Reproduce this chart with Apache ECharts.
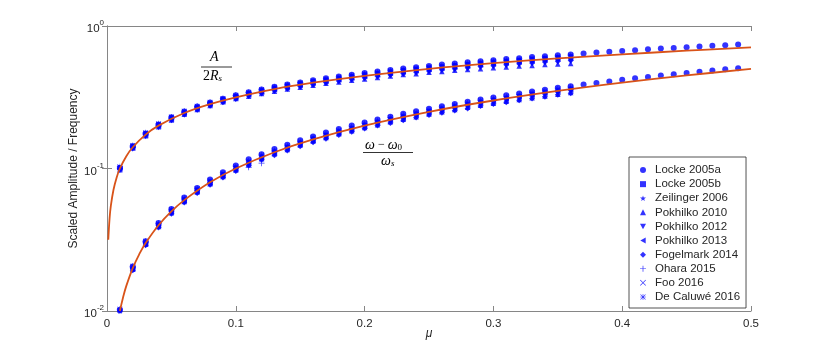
<!DOCTYPE html>
<html>
<head>
<meta charset="utf-8">
<script src="https://cdn.jsdelivr.net/npm/echarts@6/dist/echarts.min.js"></script>
<style>
  html, body { margin: 0; padding: 0; background: #fff; }
  #chart { width: 830px; height: 351px; }
</style>
</head>
<body>
<div id="chart"></div>
<script>
// mu values of the measured points
const muShort = [0.01, 0.02, 0.03, 0.04, 0.05, 0.06, 0.07, 0.08, 0.09, 0.10, 0.11, 0.12, 0.13, 0.14, 0.15, 0.16, 0.17, 0.18, 0.19, 0.20, 0.21, 0.22, 0.23, 0.24, 0.25, 0.26, 0.27, 0.28, 0.29, 0.30, 0.31, 0.32, 0.33, 0.34, 0.35, 0.36]
const muLong = muShort.concat([0.37, 0.38, 0.39, 0.40, 0.41, 0.42, 0.43, 0.44, 0.45, 0.46, 0.47, 0.48, 0.49])

// amplitude (upper group) and frequency (lower group)
const locke2005aAmp = [.101, .143, .176, .204, .229, .251, .272, .291, .309, .327, .343, .359, .374, .388, .402, .416, .429, .442, .455, .467, .479, .491, .503, .514, .525, .536, .546, .556, .566, .576, .586, .595, .605, .614, .623, .632, .642, .651, .660, .668, .677, .686, .694, .702, .710, .718, .726, .734, .742]
const locke2005aFreq = [.0102, .0205, .0309, .0414, .0519, .0625, .0731, .0837, .0943, .105, .116, .126, .137, .147, .158, .168, .179, .189, .200, .210, .221, .231, .242, .252, .263, .273, .284, .294, .305, .315, .326, .336, .347, .357, .368, .378, .388, .398, .408, .419, .429, .439, .449, .458, .468, .478, .488, .497, .505]
const locke2005bAmp = [.102, .144, .176, .204, .228, .249, .270, .288, .306, .322, .338, .353, .368, .381, .395, .408, .420, .432, .445, .456, .467, .478, .490, .500, .510, .520, .530, .540, .550, .559, .568, .577, .587, .595, .604, .612]
const locke2005bFreq = [.0101, .0201, .0302, .0403, .0504, .0605, .0706, .0807, .0908, .101, .111, .121, .131, .141, .151, .161, .171, .181, .191, .201, .211, .221, .231, .241, .251, .261, .271, .281, .291, .301, .311, .321, .331, .341, .351, .361]
const zeilingerAmp = [.100, .142, .173, .201, .223, .245, .264, .283, .301, .316, .331, .347, .360, .375, .387, .399, .413, .424, .435, .448, .458, .468, .480, .491, .499, .510, .521, .529, .538, .548, .558, .566, .574, .584, .591, .600]
const zeilingerFreq = [.0100, .0199, .0300, .0398, .0500, .0597, .0700, .0795, .0900, .0995, .110, .119, .130, .139, .150, .159, .170, .179, .190, .199, .210, .219, .229, .239, .249, .259, .269, .279, .289, .298, .309, .318, .328, .338, .348, .357]
const pokhilko2010Amp = [.098, .139, .170, .196, .219, .240, .259, .277, .294, .310, .322, .336, .348, .361, .372, .384, .396, .405, .416, .425, .435, .446, .456, .463, .473, .479, .489, .495, .501, .510, .515, .524, .529, .536, .542, .546]
const pokhilko2010Freq = [.0098, .0196, .0294, .0392, .0490, .0587, .0685, .0782, .0879, .0976, .107, .117, .127, .136, .146, .156, .165, .175, .184, .194, .203, .213, .222, .231, .241, .250, .259, .269, .278, .287, .296, .305, .314, .323, .332, .342]
const pokhilko2012Amp = [.097, .137, .168, .194, .217, .237, .257, .274, .291, .306, .321, .335, .349, .361, .373, .386, .397, .408, .419, .429, .440, .450, .460, .469, .478, .487, .496, .504, .513, .521, .529, .537, .545, .552, .559, .566]
const pokhilko2012Freq = [.0097, .0194, .0291, .0388, .0485, .0582, .0679, .0776, .0873, .0970, .107, .116, .126, .136, .146, .155, .165, .175, .184, .194, .204, .213, .223, .233, .242, .252, .262, .271, .281, .291, .300, .310, .320, .329, .339, .349]
const pokhilko2013Amp = [.099, .140, .171, .198, .221, .243, .262, .280, .297, .313, .328, .343, .357, .370, .383, .396, .408, .420, .431, .443, .453, .464, .475, .485, .495, .505, .515, .524, .533, .542, .551, .560, .569, .577, .586, .594]
const pokhilko2013Freq = [.0099, .0198, .0297, .0396, .0495, .0594, .0693, .0792, .0891, .0990, .109, .119, .129, .139, .149, .158, .168, .178, .188, .198, .208, .218, .228, .238, .248, .257, .267, .277, .287, .297, .307, .317, .327, .337, .347, .356]
const fogelmarkAmp = [.099, .140, .171, .197, .220, .240, .259, .277, .293, .309, .324, .338, .352, .364, .377, .389, .401, .412, .423, .434, .444, .454, .464, .474, .483, .493, .502, .510, .519, .527, .535, .543, .551, .558, .566, .573]
const fogelmarkFreq = [.0096, .0193, .0289, .0385, .0481, .0577, .0673, .0768, .0864, .0959, .105, .115, .124, .134, .143, .153, .162, .172, .181, .191, .200, .209, .218, .228, .237, .246, .255, .264, .274, .283, .292, .301, .310, .319, .329, .338]
const oharaAmp = [.100, .141, .174, .200, .224, .246, .265, .284, .301, .317, .333, .348, .362, .375, .389, .401, .414, .426, .437, .449, .460, .471, .481, .492, .502, .512, .522, .531, .541, .550, .559, .568, .577, .585, .594, .602]
const oharaFreq = [.0100, .0201, .0301, .0401, .0502, .0602, .0702, .0802, .0902, .100, .102, .109, .131, .141, .151, .161, .171, .181, .191, .201, .211, .221, .231, .241, .251, .261, .271, .281, .291, .301, .311, .321, .331, .341, .351, .361]
const fooAmp = [.101, .143, .175, .202, .226, .247, .267, .286, .303, .319, .335, .350, .364, .378, .391, .404, .416, .428, .440, .451, .463, .474, .485, .495, .505, .515, .525, .534, .544, .553, .563, .572, .581, .589, .598, .606]
const fooFreq = [.0101, .0202, .0303, .0404, .0505, .0606, .0707, .0808, .0909, .101, .111, .121, .131, .141, .152, .162, .172, .182, .192, .202, .212, .222, .232, .242, .253, .263, .273, .283, .293, .303, .313, .323, .333, .343, .354, .364]
const decaluweAmp = [.103, .145, .178, .206, .230, .252, .273, .291, .309, .326, .342, .357, .372, .385, .399, .412, .424, .437, .449, .460, .472, .483, .494, .505, .515, .525, .536, .545, .555, .564, .574, .583, .592, .600, .610, .618]
const decaluweFreq = [.0103, .0206, .0309, .0412, .0515, .0618, .0721, .0824, .0927, .103, .113, .124, .134, .144, .155, .165, .175, .185, .196, .206, .216, .227, .237, .247, .258, .268, .278, .288, .299, .309, .319, .330, .340, .350, .361, .371]

// theory curves, points
const ampCurveMu = [0.001, 0.002, 0.003, 0.005, 0.0075, 0.01, 0.015, 0.02, 0.03, 0.04, 0.06, 0.08, 0.1, 0.13, 0.16, 0.2, 0.25, 0.3, 0.35, 0.4, 0.45, 0.5]
const ampCurveVal = [0.0316, 0.0447, 0.0548, 0.0707, 0.0866, 0.1, 0.122, 0.141, 0.173, 0.2, 0.245, 0.283, 0.316, 0.361, 0.4, 0.447, 0.5, 0.548, 0.592, 0.632, 0.671, 0.707]
const freqCurveMu = [0.01, 0.0125, 0.015, 0.02, 0.025, 0.03, 0.04, 0.05, 0.06, 0.08, 0.1, 0.13, 0.16, 0.2, 0.25, 0.3, 0.35, 0.4, 0.45, 0.5]
const freqCurveVal = [0.01, 0.0125, 0.015, 0.02, 0.025, 0.03, 0.04, 0.05, 0.06, 0.08, 0.1, 0.13, 0.16, 0.2, 0.25, 0.3, 0.35, 0.4, 0.45, 0.5]

const xTicks = [0, 0.1, 0.2, 0.3, 0.4, 0.5]

const blue = '#0000ff'
const orange = '#d95319'
const axisGray = '#868686'
const textColor = '#262626'

// marker shapes
const starPath = 'path://M5,0L6.2,3.6L10,3.6L7,5.9L8.1,9.5L5,7.3L1.9,9.5L3,5.9L0,3.6L3.8,3.6Z'
const triDownPath = 'path://M0,0L10,0L5,9Z'
const triLeftPath = 'path://M0,5L9,0L9,10Z'
const plusPath = 'path://M4.4,0h1.2v10h-1.2zM0,4.4h10v1.2h-10z'
const crossPath = 'path://M0.8,0L5,4.2L9.2,0L10,0.8L5.8,5L10,9.2L9.2,10L5,5.8L0.8,10L0,9.2L4.2,5L0,0.8Z'
const asteriskPath = 'path://M4.5,0h1v10h-1zM0,4.5h10v1h-10zM1.2,0.5L9.5,8.8L8.8,9.5L0.5,1.2ZM8.8,0.5L9.5,1.2L1.2,9.5L0.5,8.8Z'

const pairs = (xs, ys) => ys.map((y, i) => [xs[i], y])

const groups = [
  { name: 'Locke 2005a', mu: muLong, amp: locke2005aAmp, freq: locke2005aFreq, symbol: 'circle', size: 6 },
  { name: 'Locke 2005b', mu: muShort, amp: locke2005bAmp, freq: locke2005bFreq, symbol: 'rect', size: 4.5 },
  { name: 'Zeilinger 2006', mu: muShort, amp: zeilingerAmp, freq: zeilingerFreq, symbol: starPath, size: 6 },
  { name: 'Pokhilko 2010', mu: muShort, amp: pokhilko2010Amp, freq: pokhilko2010Freq, symbol: 'triangle', size: 5.5 },
  { name: 'Pokhilko 2012', mu: muShort, amp: pokhilko2012Amp, freq: pokhilko2012Freq, symbol: triDownPath, size: 5.5 },
  { name: 'Pokhilko 2013', mu: muShort, amp: pokhilko2013Amp, freq: pokhilko2013Freq, symbol: triLeftPath, size: 5.5 },
  { name: 'Fogelmark 2014', mu: muShort, amp: fogelmarkAmp, freq: fogelmarkFreq, symbol: 'diamond', size: 6 },
  { name: 'Ohara 2015', mu: muShort, amp: oharaAmp, freq: oharaFreq, symbol: plusPath, size: 6 },
  { name: 'Foo 2016', mu: muShort, amp: fooAmp, freq: fooFreq, symbol: crossPath, size: 5 },
  { name: 'De Caluwé 2016', mu: muShort, amp: decaluweAmp, freq: decaluweFreq, symbol: asteriskPath, size: 6 },
]

const scatterSeries = groups.map((g) => ({
  name: g.name,
  type: 'scatter',
  data: pairs(g.mu, g.amp).concat(pairs(g.mu, g.freq)),
  symbol: g.symbol,
  symbolSize: g.size,
  itemStyle: { color: blue },
  z: 2,
}))

const curveStyle = {
  type: 'line',
  smooth: 0.4,
  showSymbol: false,
  silent: true,
  lineStyle: { color: orange, width: 1.8 },
  z: 3,
}

const chart = echarts.init(document.getElementById('chart'))

const serif = '"Liberation Serif", "DejaVu Serif", serif'

chart.setOption({
  animation: false,
  backgroundColor: '#fff',
  textStyle: { fontFamily: '"Liberation Sans", Arial, sans-serif' },
  grid: { left: 107, right: 79, top: 26, bottom: 40 },
  legend: {
    orient: 'vertical',
    left: 629,
    top: 157,
    data: groups.map((g) => ({ name: g.name, icon: g.symbol })),
    backgroundColor: '#fff',
    borderColor: textColor,
    borderWidth: 0.8,
    borderRadius: 0,
    padding: [6, 6, 4, 11],
    itemGap: 0,
    itemWidth: 6,
    itemHeight: 6,
    textStyle: { color: textColor, fontSize: 11.5, lineHeight: 14.1, padding: [0, 0, 0, 4] },
    selectedMode: false,
  },
  xAxis: [
    {
      type: 'value',
      min: 0,
      max: 0.5,
      interval: 0.1,
      name: 'μ',
      nameLocation: 'middle',
      nameGap: 17,
      nameMoveOverlap: false,
      nameTextStyle: { color: textColor, fontSize: 12, fontStyle: 'italic' },
      axisLine: { lineStyle: { color: axisGray, width: 1 } },
      axisTick: { inside: true, length: 5, lineStyle: { color: axisGray } },
      axisLabel: {
        color: textColor,
        fontSize: 11.5,
        margin: 7,
        formatter: (v) => (xTicks.includes(Math.round(v * 10) / 10) ? String(Math.round(v * 10) / 10) : ''),
      },
      splitLine: { show: false },
    },
    {
      type: 'value',
      position: 'top',
      min: 0,
      max: 0.5,
      interval: 0.1,
      axisLine: { lineStyle: { color: axisGray, width: 1 } },
      axisTick: { inside: true, length: 5, lineStyle: { color: axisGray } },
      axisLabel: { show: false },
      splitLine: { show: false },
    },
  ],
  yAxis: [
    {
      type: 'log',
      logBase: 10,
      min: 0.01,
      max: 1,
      name: 'Scaled Amplitude / Frequency',
      nameLocation: 'middle',
      nameGap: 27,
      nameMoveOverlap: false,
      nameTextStyle: { color: textColor, fontSize: 12 },
      axisLine: { show: true, lineStyle: { color: axisGray, width: 1 } },
      axisTick: { inside: true, length: 5, lineStyle: { color: axisGray } },
      minorTick: { show: false },
      axisLabel: {
        color: textColor,
        margin: 3,
        formatter: (v) => '{b|10}{s|' + Math.round(Math.log10(v)) + '}',
        rich: {
          b: { fontSize: 11.5, color: textColor, padding: [6, 0, 0, 0] },
          s: { fontSize: 8, color: textColor, padding: [0, 0, 6, 0] },
        },
      },
      splitLine: { show: false },
    },
    {
      type: 'log',
      logBase: 10,
      position: 'right',
      min: 0.01,
      max: 1,
      axisLine: { show: true, lineStyle: { color: axisGray, width: 1 } },
      axisTick: { inside: true, length: 5, lineStyle: { color: axisGray } },
      axisLabel: { show: false },
      splitLine: { show: false },
    },
  ],
  series: scatterSeries.concat([
    Object.assign({ name: 'amp curve', data: pairs(ampCurveMu, ampCurveVal) }, curveStyle),
    Object.assign({ name: 'freq curve', data: pairs(freqCurveMu, freqCurveVal) }, curveStyle),
  ]),
  graphic: [
    // A / 2R_s label
    {
      type: 'text', left: 210, top: 50,
      style: { text: 'A', font: 'italic 14px ' + serif, fill: '#000' },
    },
    {
      type: 'line', shape: { x1: 201, y1: 67, x2: 232, y2: 67 },
      style: { stroke: '#000', lineWidth: 0.8 },
    },
    {
      type: 'text', left: 203, top: 69,
      style: {
        text: '{n|2}{i|R}{s|s}',
        rich: {
          n: { font: '14px ' + serif, fill: '#000' },
          i: { font: 'italic 14px ' + serif, fill: '#000' },
          s: { font: 'italic 9px ' + serif, fill: '#000', padding: [6, 0, 0, 0] },
        },
      },
    },
    // (omega - omega_0) / omega_s label
    {
      type: 'text', left: 365, top: 138,
      style: {
        text: '{i|ω}{n| − }{i|ω}{s|0}',
        rich: {
          n: { font: '12px ' + serif, fill: '#000' },
          i: { font: 'italic 14px ' + serif, fill: '#000' },
          s: { font: '9px ' + serif, fill: '#000', padding: [6, 0, 0, 0] },
        },
      },
    },
    {
      type: 'line', shape: { x1: 363, y1: 152.5, x2: 413, y2: 152.5 },
      style: { stroke: '#000', lineWidth: 0.8 },
    },
    {
      type: 'text', left: 381, top: 154,
      style: {
        text: '{i|ω}{s|s}',
        rich: {
          i: { font: 'italic 14px ' + serif, fill: '#000' },
          s: { font: 'italic 9px ' + serif, fill: '#000', padding: [6, 0, 0, 0] },
        },
      },
    },
  ],
})
</script>
</body>
</html>
